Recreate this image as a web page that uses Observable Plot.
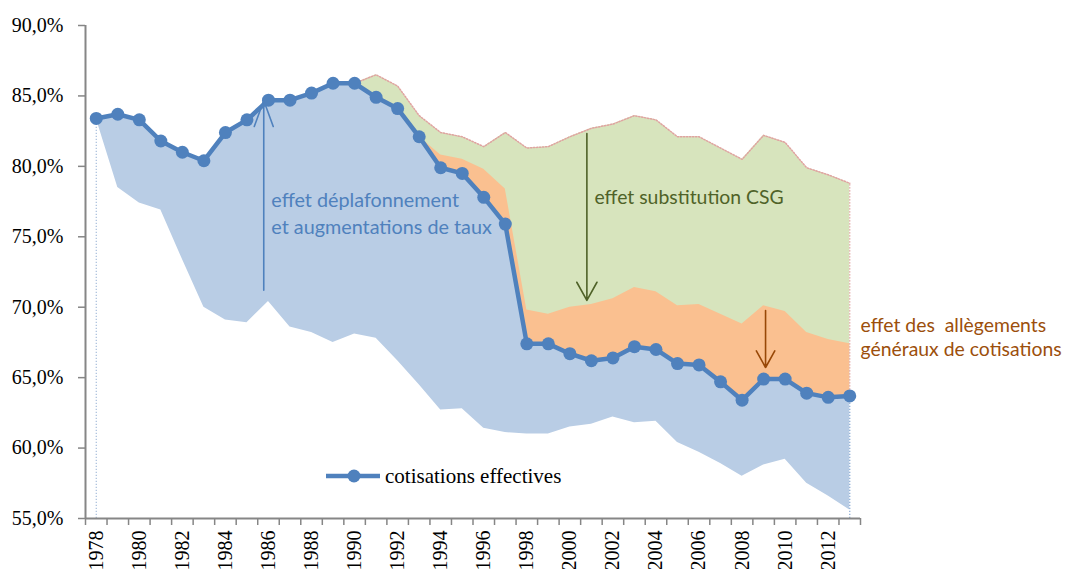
<!DOCTYPE html>
<html><head><meta charset="utf-8">
<script src="https://cdn.jsdelivr.net/npm/d3@7"></script>
<script src="https://cdn.jsdelivr.net/npm/@observablehq/plot@0.6"></script>
<style>
body{margin:0;background:#fff;}
#wrap{position:relative;width:1066px;height:569px;overflow:hidden;}
#legend{position:absolute;left:326px;top:464px;height:24px;display:flex;align-items:center;font-family:'Liberation Serif',serif;font-size:21px;color:#000;}
#legend span{margin-left:4px;line-height:24px;}
</style></head><body><div id="wrap"><div id="chart"></div>
<div id="legend"><svg width="55" height="24"><line x1="0" y1="12" x2="54" y2="12" stroke="#4F81BD" stroke-width="4.5"/><circle cx="28" cy="12" r="6.5" fill="#4F81BD"/></svg><span>cotisations effectives</span></div></div>
<script>
// categories
const years = [1978,1979,1980,1981,1982,1983,1984,1985,1986,1987,1988,1989,1990,1991,1992,1993,1994,1995,1996,1997,1998,1999,2000,2001,2002,2003,2004,2005,2006,2007,2008,2009,2010,2011,2012,2013];
// cotisations effectives (%)
const effective = [83.4,83.7,83.3,81.8,81.0,80.4,82.4,83.3,84.7,84.7,85.2,85.9,85.9,84.9,84.1,82.1,79.9,79.5,77.8,75.9,67.4,67.4,66.7,66.2,66.4,67.2,67.0,66.0,65.9,64.7,63.4,64.9,64.9,63.9,63.6,63.7];
// lower bound of the "déplafonnement" effect
const lower = [83.4,78.5,77.4,76.9,73.4,70.0,69.1,68.9,70.4,68.6,68.2,67.5,68.1,67.8,66.2,64.5,62.7,62.8,61.4,61.1,61.0,61.0,61.5,61.7,62.2,61.8,61.9,60.4,59.7,58.9,58.0,58.8,59.2,57.5,56.6,55.6];
// top of the "allègements généraux" effect (from 1993)
const orangeTop = [null,null,null,null,null,null,null,null,null,null,null,null,null,null,null,82.1,80.8,80.5,79.8,78.4,69.8,69.5,70.0,70.2,70.6,71.4,71.1,70.1,70.2,69.5,68.8,70.1,69.7,68.2,67.7,67.4];
// top of the "substitution CSG" effect (from 1990)
const greenTop = [null,null,null,null,null,null,null,null,null,null,null,null,85.9,86.5,85.7,83.6,82.4,82.1,81.4,82.4,81.3,81.4,82.1,82.7,83.0,83.6,83.3,82.1,82.1,81.3,80.5,82.2,81.7,79.9,79.4,78.8];
// tick values
const yTicks = [55,60,65,70,75,80,85,90];
const xLabelYears = [1978,1980,1982,1984,1986,1988,1990,1992,1994,1996,1998,2000,2002,2004,2006,2008,2010,2012];

// annotations (text & arrows), in data coordinates
const blueNotes = [
  {x: 1986.13, y: 77.53, text: "effet déplafonnement"},
  {x: 1986.13, y: 75.65, text: "et augmentations de taux"}
];
const greenNotes = [{x: 2001.14, y: 77.8, text: "effet substitution CSG"}];
const orangeNotes = [
  {x: 2013.5, y: 68.68, text: "effet des  allègements"},
  {x: 2013.5, y: 66.98, text: "généraux de cotisations"}
];
const blueArrow = [{x: 1985.78, y1: 71.2, y2: 84.68}];
const greenArrow = [{x: 2000.79, y1: 82.33, y2: 70.48}];
const orangeArrow = [{x: 2009.09, y1: 69.77, y2: 65.72}];

const table = years.map((year, i) => ({year, effective: effective[i], lower: lower[i], orangeTop: orangeTop[i], greenTop: greenTop[i]}));
const greenRows = table.filter(d => d.greenTop != null);
const orangeRows = table.filter(d => d.orangeTop != null);
const bounds = d3.range(years[0] - 0.5, years[years.length - 1] + 1, 1);
const xMin = years[0] - 0.5, xMax = years[years.length - 1] + 0.5;
const first = table[0], last = table[table.length - 1];

const axisGray = "#868686";
const serif = "'Liberation Serif', serif";
const sans = "Lato";
const dots = "1.3 1.7";

const chart = Plot.plot({
  width: 1066,
  height: 569,
  marginLeft: 85,
  marginRight: 206,
  marginTop: 25,
  marginBottom: 51,
  style: {fontFamily: serif, fontSize: "20px", background: "transparent", overflow: "visible"},
  x: {domain: [xMin, xMax], label: null},
  y: {domain: [55, 90], label: null},
  marks: [
    Plot.areaY(table, {x: "year", y1: "lower", y2: "effective", fill: "#B9CDE5"}),
    Plot.areaY(greenRows, {x: "year", y1: "effective", y2: "greenTop", fill: "#D7E4BD"}),
    Plot.areaY(orangeRows, {x: "year", y1: "effective", y2: "orangeTop", fill: "#FAC090"}),
    Plot.lineY(greenRows, {x: "year", y: "greenTop", stroke: "#E0A3A1", strokeWidth: 1.5, strokeDasharray: dots}),
    Plot.ruleX([first], {x: "year", y1: 55, y2: "effective", stroke: "#A6BDDB", strokeWidth: 1.2, strokeDasharray: dots}),
    Plot.ruleX([last], {x: "year", y1: 55, y2: "effective", stroke: "#95B3D7", strokeWidth: 1.4, strokeDasharray: dots}),
    Plot.ruleX([last], {x: "year", y1: "effective", y2: "greenTop", stroke: "#E0A3A1", strokeWidth: 1.4, strokeDasharray: dots}),
    // axes
    Plot.ruleX([xMin], {y1: 55, y2: 90, stroke: axisGray, strokeWidth: 2}),
    Plot.ruleY([55], {x1: xMin, x2: xMax, stroke: axisGray, strokeWidth: 2}),
    Plot.axisY({ticks: yTicks, tickSize: 7, tickPadding: 15, stroke: axisGray, strokeWidth: 1.5, fill: "#000", fontSize: 20, fontFamily: serif, label: null,
      tickFormat: d => d.toFixed(1).replace(".", ",") + "%"}),
    Plot.axisX({ticks: bounds, tickSize: 7, tickFormat: () => "", stroke: axisGray, strokeWidth: 1.5, label: null}),
    Plot.axisX({ticks: xLabelYears, tickSize: 0, tickPadding: 12, tickRotate: -90, fill: "#000", fontSize: 20, fontFamily: serif, label: null, tickFormat: d => String(d)}),
    // annotations
    Plot.arrow(blueArrow, {x: "x", y1: "y1", y2: "y2", stroke: "#4F81BD", strokeWidth: 1.6, headLength: 26, headAngle: 40}),
    Plot.arrow(greenArrow, {x: "x", y1: "y1", y2: "y2", stroke: "#4F6228", strokeWidth: 1.6, headLength: 19.5, headAngle: 58}),
    Plot.arrow(orangeArrow, {x: "x", y1: "y1", y2: "y2", stroke: "#984807", strokeWidth: 1.6, headLength: 20, headAngle: 58}),
    Plot.text(blueNotes, {x: "x", y: "y", text: "text", textAnchor: "start", fill: "#4F81BD", fontFamily: sans, fontSize: 19.8}),
    Plot.text(greenNotes, {x: "x", y: "y", text: "text", textAnchor: "start", fill: "#4F6228", fontFamily: sans, fontSize: 19.4}),
    Plot.text(orangeNotes, {x: "x", y: "y", text: "text", textAnchor: "start", fill: "#9C4F0C", fontFamily: sans, fontSize: 19.4}),
    // main series
    Plot.lineY(table, {x: "year", y: "effective", stroke: "#4F81BD", strokeWidth: 4.5}),
    Plot.dot(table, {x: "year", y: "effective", r: 6.5, fill: "#4F81BD"})
  ]
});
document.getElementById("chart").appendChild(chart);
</script></body></html>
